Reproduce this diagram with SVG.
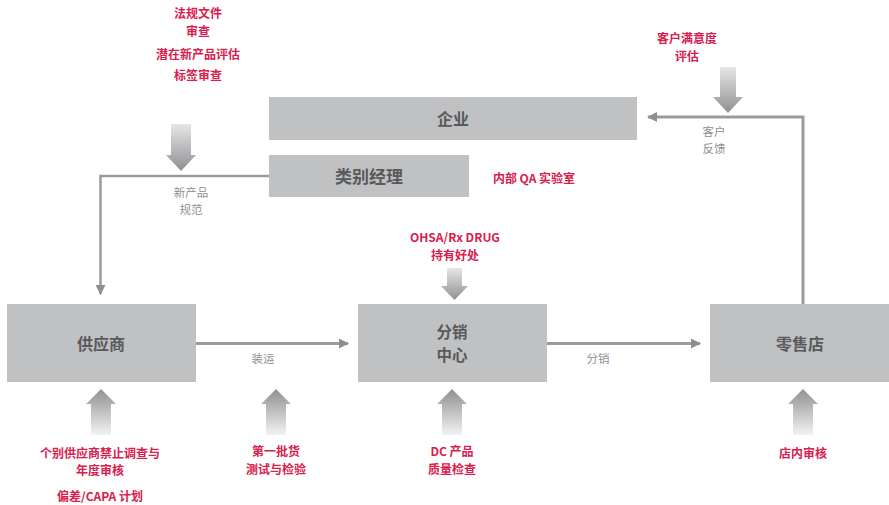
<svg xmlns="http://www.w3.org/2000/svg" width="889" height="505" viewBox="0 0 889 505">
<defs>
<linearGradient id="gDown" x1="0" y1="0" x2="0" y2="1">
<stop offset="0" stop-color="#e6e6e7"/>
<stop offset="1" stop-color="#8f9092"/>
</linearGradient>
<linearGradient id="gUp" x1="0" y1="1" x2="0" y2="0">
<stop offset="0" stop-color="#f2f2f2"/>
<stop offset="1" stop-color="#8f9092"/>
</linearGradient>
<marker id="ah" markerWidth="10" markerHeight="10" viewBox="0 0 10 10" refX="9" refY="5" orient="auto" markerUnits="userSpaceOnUse">
<path d="M0,0 L10,5 L0,10 z" fill="#8e8f91"/>
</marker>
</defs>
<style>
text{font-family:"Noto Sans CJK SC","Liberation Sans",sans-serif;text-anchor:middle;dominant-baseline:central}
.box{fill:#c0c1c3}
.nt{font-size:16px;font-weight:bold;fill:#58595b}
.red{font-size:12px;font-weight:bold;fill:#d6204e}
.lbl{font-size:11.5px;fill:#8e8f91}
.con{fill:none;stroke:#9a9b9d;stroke-width:3}
.dn{fill:url(#gDown)}
.up{fill:url(#gUp)}
</style>
<rect width="889" height="505" fill="#fff"/>
<g id="connectors">
<path class="con" d="M269,176 H100.5 V294" marker-end="url(#ah)" style="stroke-width:2.5"/>
<path class="con" d="M196,343.5 H348" marker-end="url(#ah)"/>
<path class="con" d="M547,343.5 H700" marker-end="url(#ah)"/>
<path class="con" d="M803,304 V117 H648" marker-end="url(#ah)"/>
</g>
<g id="enterprise"><rect class="box" x="269" y="97" width="368" height="43"/><text class="nt" x="453" y="117.5">企业</text></g>
<g id="category-manager"><rect class="box" x="269" y="155" width="200" height="42"/><text class="nt" x="369" y="175.5" style="font-size:17px">类别经理</text></g>
<g id="supplier"><rect class="box" x="7" y="304" width="189" height="78"/><text class="nt" x="101" y="342.5">供应商</text></g>
<g id="dc"><rect class="box" x="358" y="304" width="189" height="78"/><text class="nt" x="452" y="331" style="font-size:15.5px">分销</text><text class="nt" x="452" y="354" style="font-size:15.5px">中心</text></g>
<g id="retail"><rect class="box" x="710" y="304" width="179" height="78"/><text class="nt" x="800" y="342.5">零售店</text></g>
<g id="arrows">
<path class="dn" d="M171,124 H191 V155 H196 L181,171 L166,155 H171 z"/>
<path class="dn" d="M447,268 H462 V286 H468 L454.5,300 L441,286 H447 z"/>
<path class="dn" d="M720,67 H736 V97 H743 L728,113 L713,97 H720 z"/>
<path class="up" d="M91,435 H111 V404 H116 L101,389 L86,404 H91 z"/>
<path class="up" d="M266,435 H286 V404 H291 L276,389 L261,404 H266 z"/>
<path class="up" d="M442,435 H462 V404 H467 L452,389 L437,404 H442 z"/>
<path class="up" d="M793,435 H813 V404 H818 L803,389 L788,404 H793 z"/>
</g>
<g id="labels">
<text class="red" x="198" y="12.5">法规文件</text>
<text class="red" x="198" y="30">审查</text>
<text class="red" x="198" y="53">潜在新产品评估</text>
<text class="red" x="198" y="74">标签审查</text>
<text class="lbl" x="191" y="191.5">新产品</text>
<text class="lbl" x="191" y="209">规范</text>
<text class="red" x="687" y="37.5">客户满意度</text>
<text class="red" x="687" y="55">评估</text>
<text class="lbl" x="714" y="130.5">客户</text>
<text class="lbl" x="714" y="148">反馈</text>
<text class="red" x="534" y="177">内部 QA 实验室</text>
<text class="red" x="455" y="236.5">OHSA/Rx DRUG</text>
<text class="red" x="455" y="254">持有好处</text>
<text class="lbl" x="263" y="358">装运</text>
<text class="lbl" x="598" y="358">分销</text>
<text class="red" x="100" y="452">个别供应商禁止调查与</text>
<text class="red" x="100" y="469.5">年度审核</text>
<text class="red" x="100" y="495">偏差/CAPA 计划</text>
<text class="red" x="276" y="450.5">第一批货</text>
<text class="red" x="276" y="468">测试与检验</text>
<text class="red" x="452" y="450.5">DC 产品</text>
<text class="red" x="452" y="468">质量检查</text>
<text class="red" x="803" y="452">店内审核</text>
</g>
</svg>
